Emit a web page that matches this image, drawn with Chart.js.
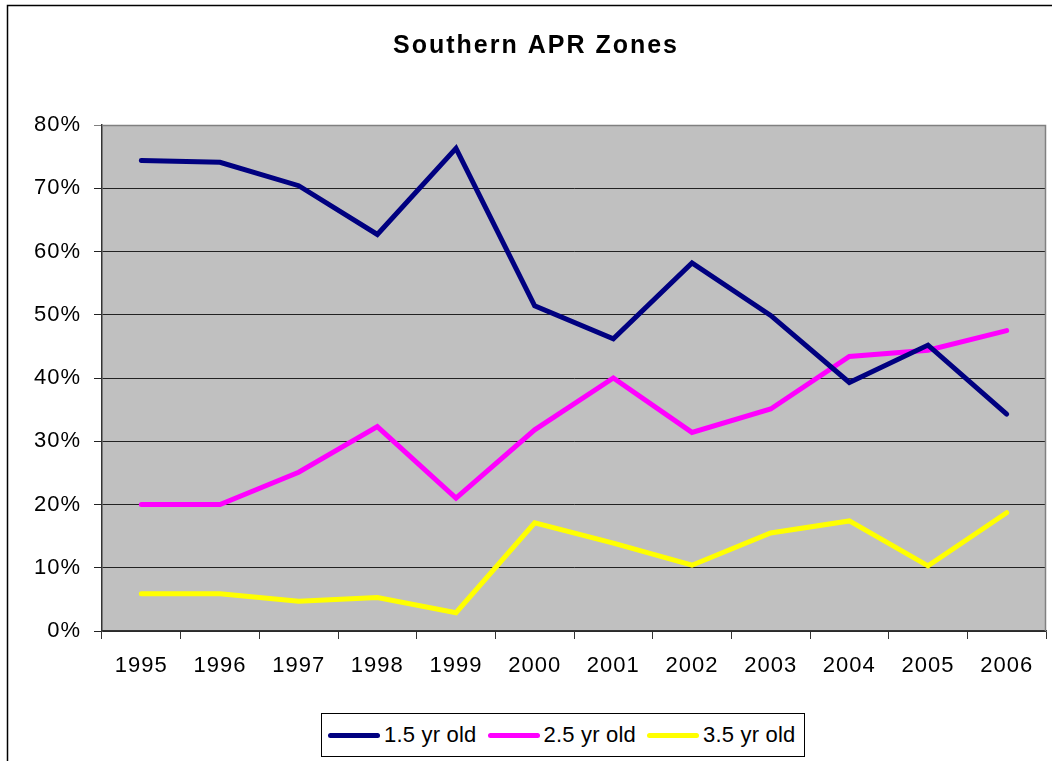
<!DOCTYPE html>
<html lang="en">
<head>
<meta charset="UTF-8">
<title>Southern APR Zones</title>
<script src="https://cdn.jsdelivr.net/npm/chart.js@4.4.0/dist/chart.umd.min.js"></script>
<style>
  * { box-sizing: border-box; margin: 0; padding: 0; }
  body { background: #fff; width: 1052px; height: 761px; overflow: hidden; position: relative; font-family: "Liberation Sans", Arial, sans-serif; }
  #wrap { position: absolute; left: 0; top: 0; width: 1052px; height: 761px; }
  #legend { position: absolute; left: 321px; top: 713px; width: 484px; height: 44px; border: 1px solid #000; background: #fff;
            display: flex; align-items: center; padding-left: 6px; font-size: 22px; color: #000; letter-spacing: 0.2px; white-space: nowrap; }
  .item { display: flex; align-items: center; margin-right: 11px; flex-shrink: 0; }
  .swatch { width: 52px; height: 5px; border-radius: 3px; margin-right: 4px; flex-shrink: 0; }
</style>
</head>
<body>
<div id="wrap"><canvas id="chart" width="1052" height="761"></canvas></div>
<div id="legend"></div>

<script>
// data (percent)
const TITLE = 'Southern APR Zones';
const years = ['1995', '1996', '1997', '1998', '1999', '2000', '2001', '2002', '2003', '2004', '2005', '2006'];
const yr15 = [74.4, 74.1, 70.4, 62.7, 76.3, 51.4, 46.2, 58.2, 49.9, 39.3, 45.2, 34.3];
const yr25 = [20.0, 20.0, 25.1, 32.3, 21.0, 31.8, 40.0, 31.4, 35.1, 43.4, 44.4, 47.5];
const yr35 = [5.9, 5.9, 4.7, 5.3, 2.9, 17.1, 13.9, 10.4, 15.5, 17.4, 10.3, 18.7];
const seriesNames = ['1.5 yr old', '2.5 yr old', '3.5 yr old'];
const seriesColors = ['#000080', '#ff00ff', '#ffff00'];
const yTicks = [0, 10, 20, 30, 40, 50, 60, 70, 80];

Chart.defaults.font.family = '"Liberation Sans", Arial, sans-serif';
Chart.defaults.font.size = 22;
Chart.defaults.color = '#000';

// frame, grey plot area, title
const decor = {
  id: 'decor',
  beforeDraw(chart) {
    const { ctx, chartArea: a } = chart;
    ctx.save();
    ctx.fillStyle = '#c0c0c0';
    ctx.fillRect(a.left, a.top, a.right - a.left, a.bottom - a.top);
    ctx.strokeStyle = '#000';
    ctx.lineWidth = 1.5;
    ctx.strokeRect(7.5, 5.5, 1200, 900);
    ctx.font = 'bold 25px "Liberation Sans", Arial, sans-serif';
    ctx.letterSpacing = '2px';
    ctx.textAlign = 'center';
    ctx.textBaseline = 'alphabetic';
    ctx.fillStyle = '#000';
    ctx.fillText(TITLE, 536, 53);
    ctx.restore();
    ctx.letterSpacing = '1px';
  },
  beforeDatasetsDraw(chart) {
    const { ctx, chartArea: a } = chart;
    ctx.save();
    ctx.strokeStyle = '#808080';
    ctx.lineWidth = 1.5;
    ctx.beginPath();
    ctx.moveTo(a.left, a.top + 0.5);
    ctx.lineTo(a.right - 0.5, a.top + 0.5);
    ctx.lineTo(a.right - 0.5, a.bottom);
    ctx.stroke();
    ctx.restore();
  }
};

const datasets = [yr15, yr25, yr35].map((d, i) => ({
  label: seriesNames[i],
  data: d,
  borderColor: seriesColors[i],
  backgroundColor: seriesColors[i],
  borderWidth: 5,
  pointRadius: 0,
  tension: 0,
  borderCapStyle: 'round',
  borderJoinStyle: 'miter',
}));

new Chart(document.getElementById('chart'), {
  type: 'line',
  data: { labels: years, datasets },
  options: {
    responsive: false,
    animation: false,
    layout: { padding: { top: 125, left: 0, right: 6, bottom: 0 } },
    plugins: { legend: { display: false }, title: { display: false }, tooltip: { enabled: false } },
    scales: {
      x: {
        offset: true,
        afterFit: s => { s.height = 130; },
        grid: { offset: true, drawOnChartArea: false, tickLength: 8, color: '#333' },
        border: { color: '#333', width: 1.5 },
        ticks: { padding: 14, maxRotation: 0, autoSkip: false, color: '#000' }
      },
      y: {
        min: 0,
        max: 80,
        afterFit: s => { s.width = 102; },
        afterBuildTicks: s => { s.ticks = yTicks.map(v => ({ value: v })); },
        grid: { tickLength: 8, color: c => (c.tick && c.tick.value === 80 ? '#808080' : '#222'), lineWidth: 1 },
        border: { color: '#333', width: 1.5 },
        ticks: { padding: 13, color: '#000', callback: v => v + '%' }
      }
    }
  },
  plugins: [decor]
});

// legend
const legend = document.getElementById('legend');
seriesNames.forEach((name, i) => {
  const item = document.createElement('div');
  item.className = 'item';
  const sw = document.createElement('span');
  sw.className = 'swatch';
  sw.style.background = seriesColors[i];
  const txt = document.createElement('span');
  txt.textContent = name;
  item.appendChild(sw);
  item.appendChild(txt);
  legend.appendChild(item);
});
</script>
</body>
</html>
